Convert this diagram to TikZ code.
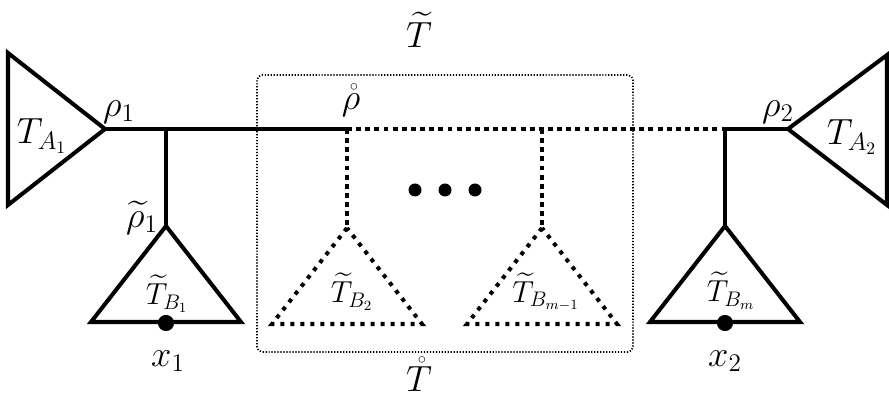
\documentclass[tikz,border=0pt]{standalone}
\usepackage{amsmath,amssymb}
\usetikzlibrary{calc}

\tikzset{
  edge/.style={line width=2.3pt,line join=miter},
  dashedge/.style={line width=2.3pt,dash pattern=on 2.8pt off 2.4pt},
  dotedge/.style={line width=2.3pt,dash pattern=on 2.3pt off 3.4pt},
  boxline/.style={line width=1pt,dash pattern=on 0.7pt off 1pt,rounded corners=3pt},
  lbl/.style={font=\fontsize{20}{24}\selectfont,inner sep=0pt},
  sublbl/.style={font=\fontsize{17}{20}\selectfont,inner sep=0pt},
}

\begin{document}
\begin{tikzpicture}[x={(0.02cm,0cm)},y={(0cm,-0.02cm)}]
  \useasboundingbox (0,0) rectangle (889,401);
  % spine points
  \coordinate (r1) at (105,129);
  \coordinate (j1) at (166,129);
  \coordinate (r0) at (347,129);
  \coordinate (rm) at (542,129);
  \coordinate (j2) at (725,129);
  \coordinate (r2) at (788,129);
  % roots of the B-subtrees
  \coordinate (b1) at (166,226);
  \coordinate (b2) at (347,228);
  \coordinate (bm1) at (542,228);
  \coordinate (bm) at (725,226);
  % dotted box around the middle part
  \draw[boxline] (257,75) rectangle (633,352);
  % A-subtrees at both ends
  \draw[edge] (r1) -- (8,53) -- (8,205) -- cycle;
  \draw[edge] (r2) -- (887,55) -- (887,205) -- cycle;
  % spine
  \draw[edge] (r1) -- (r0);
  \draw[dashedge] (r0) -- (j2);
  \draw[edge] (j2) -- (r2);
  % stems down to the B-subtrees
  \draw[edge] (j1) -- (b1);
  \draw[dashedge] (r0) -- (b2);
  \draw[dashedge] (rm) -- (bm1);
  \draw[edge] (j2) -- (bm);
  % B-subtrees
  \foreach \b/\sty in {b1/edge,b2/dotedge,bm1/dotedge,bm/edge}{
    \draw[\sty] (\b) -- ++(-75,96) -- ++(150,0) -- cycle;
  }
  % leaves
  \fill (166,323) circle (4.6pt) coordinate (x1);
  \fill (725,323) circle (4.6pt) coordinate (x2);
  \foreach \x in {415,445,475}{
    \fill (\x,190) circle (3.7pt);
  }
  % labels
  \node[lbl] (tT) at (419,30) {$\widetilde{T}$};
  \node[lbl] (tTo) at (419,374) {$\mathring{T}$};
  \node[lbl] (lA1) at (42,136) {$T_{A_1}$};
  \node[lbl] (lA2) at (852,137) {$T_{A_2}$};
  \node[lbl] (lr1) at (119,112) {$\rho_1$};
  \node[lbl] (lr2) at (778,112) {$\rho_2$};
  \node[lbl] (lr0) at (351,100) {$\mathring{\rho}$};
  \node[lbl] (lrt1) at (142,218) {$\widetilde{\rho}_1$};
  \node[sublbl] (lB1) at (167,294) {$\widetilde{T}_{B_1}$};
  \node[sublbl] (lB2) at (352,292) {$\widetilde{T}_{B_2}$};
  \node[sublbl] (lBm1) at (546,292) {$\widetilde{T}_{B_{m-1}}$};
  \node[sublbl] (lBm) at (731,291) {$\widetilde{T}_{B_m}$};
  \node[lbl] (lx1) at (168,361) {$x_1$};
  \node[lbl] (lx2) at (725,361) {$x_2$};
\end{tikzpicture}
\end{document}
